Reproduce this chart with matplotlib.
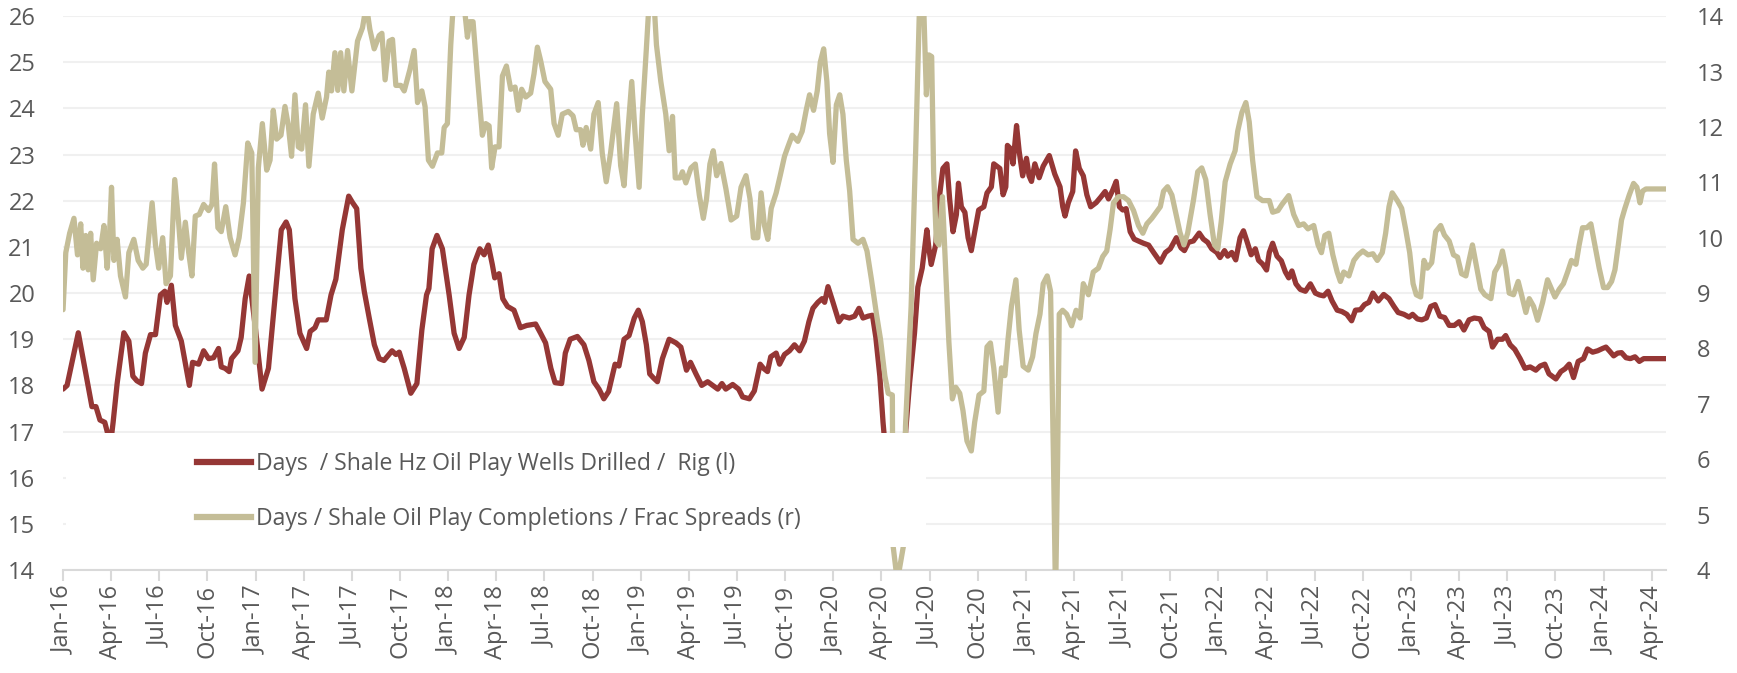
import matplotlib.pyplot as plt
from matplotlib.patches import Rectangle

plt.rcParams['font.family'] = ['Open Sans', 'DejaVu Sans']

# x = months after Jan 2016
red_m = [0.0, 0.25, 0.95, 1.5, 1.8, 2.05, 2.3, 2.6, 2.75, 2.95, 3.12, 3.37, 3.79, 4.1, 4.35, 4.6, 4.89,
         5.13, 5.45, 5.76, 6.07, 6.34, 6.48, 6.75, 7.0, 7.37, 7.66, 7.87, 8.07, 8.45, 8.76, 9.07, 9.38,
         9.69, 9.86, 10.1, 10.35, 10.5, 10.9, 11.1, 11.35, 11.6, 12.0, 12.4, 12.8, 13.2, 13.6, 13.9, 14.1,
         14.45, 14.76, 15.18, 15.4, 15.7, 15.9, 16.4, 16.7, 17.0, 17.4, 17.8, 18.04, 18.3, 18.56, 18.77,
         19.08, 19.4, 19.7, 20.0, 20.5, 20.74, 20.95, 21.26, 21.67, 22.05, 22.36, 22.65, 22.8, 23.0, 23.3,
         23.64, 24.06, 24.37, 24.68, 25.0, 25.3, 25.6, 25.97, 26.24, 26.5, 26.75, 26.9, 27.17, 27.4, 27.7,
         28.1, 28.5, 28.9, 29.45, 29.76, 30.07, 30.4, 30.66, 31.07, 31.3, 31.6, 32.05, 32.46, 32.77, 33.08,
         33.4, 33.7, 34.0, 34.4, 34.64, 34.96, 35.27, 35.6, 35.85, 36.1, 36.35, 36.56, 36.77, 37.04, 37.35,
         37.77, 38.2, 38.5, 38.85, 39.1, 39.44, 39.8, 40.17, 40.48, 40.8, 41.06, 41.3, 41.73, 42.1, 42.35,
         42.77, 43.08, 43.44, 43.65, 43.9, 44.1, 44.44, 44.65, 44.96, 45.27, 45.58, 45.9, 46.2, 46.48,
         46.73, 47.04, 47.3, 47.46, 47.67, 47.98, 48.35, 48.6, 49.0, 49.33, 49.6, 49.85, 50.17, 50.44,
         50.65, 50.9, 51.1, 51.4, 51.8, 52.2, 52.5, 52.75, 53.06, 53.27, 53.54, 53.83, 53.96, 54.1, 54.38,
         54.63, 54.83, 55.08, 55.25, 55.46, 55.67, 55.8, 55.98, 56.2, 56.4, 56.6, 56.92, 57.06, 57.38,
         57.58, 57.85, 58.0, 58.38, 58.58, 58.75, 58.85, 59.04, 59.2, 59.42, 59.58, 59.8, 60.04, 60.2,
         60.35, 60.56, 60.83, 61.08, 61.46, 61.8, 62.13, 62.3, 62.44, 62.65, 62.92, 63.1, 63.33, 63.58,
         63.8, 64.04, 64.38, 64.67, 64.94, 65.15, 65.4, 65.63, 65.83, 66.04, 66.25, 66.5, 66.75, 67.0,
         67.33, 67.65, 67.96, 68.38, 68.7, 69.0, 69.38, 69.67, 69.88, 70.13, 70.44, 70.8, 71.06, 71.33,
         71.58, 71.9, 72.1, 72.38, 72.58, 72.83, 73.08, 73.35, 73.56, 73.77, 74.04, 74.3, 74.5, 74.75,
         75.0, 75.17, 75.38, 75.65, 75.92, 76.17, 76.38, 76.58, 76.83, 77.1, 77.42, 77.73, 78.04, 78.3,
         78.56, 78.83, 79.08, 79.4, 79.7, 80.0, 80.3, 80.54, 80.85, 81.1, 81.38, 81.63, 81.96, 82.3,
         82.63, 82.94, 83.2, 83.56, 83.88, 84.1, 84.4, 84.67, 84.96, 85.23, 85.5, 85.8, 86.1, 86.38, 86.7,
         87.0, 87.3, 87.62, 87.94, 88.3, 88.56, 88.87, 89.08, 89.4, 89.7, 89.9, 90.18, 90.47, 90.8, 91.1,
         91.43, 91.78, 92.05, 92.34, 92.6, 93.03, 93.34, 93.6, 93.86, 94.13, 94.42, 94.75, 95.0, 95.32,
         95.63, 95.94, 96.15, 96.36, 96.63, 96.88, 97.12, 97.4, 97.67, 97.96, 98.23, 98.5, 99.95]
red_v = [17.92, 18.0, 19.14, 18.1, 17.54, 17.54, 17.25, 17.2, 17.0, 16.7, 17.2, 18.04, 19.14, 18.96, 18.2,
         18.1, 18.04, 18.7, 19.1, 19.1, 19.96, 20.04, 19.8, 20.17, 19.3, 18.96, 18.4, 18.0, 18.5, 18.46,
         18.75, 18.58, 18.6, 18.8, 18.4, 18.37, 18.3, 18.58, 18.75, 19.04, 19.88, 20.37, 19.2, 17.92, 18.37,
         19.88, 21.37, 21.54, 21.37, 19.88, 19.13, 18.8, 19.17, 19.25, 19.42, 19.42, 19.96, 20.3, 21.37,
         22.1, 21.96, 21.83, 20.54, 20.04, 19.46, 18.88, 18.58, 18.54, 18.75, 18.67, 18.72, 18.37, 17.83,
         18.04, 19.2, 19.96, 20.1, 20.96, 21.25, 20.96, 19.96, 19.13, 18.8, 19.04, 19.96, 20.62, 20.96,
         20.83, 21.04, 20.62, 20.33, 20.42, 19.88, 19.71, 19.63, 19.25, 19.3, 19.33, 19.13, 18.92, 18.37,
         18.06, 18.04, 18.7, 19.0, 19.06, 18.88, 18.54, 18.08, 17.92, 17.71, 17.87, 18.46, 18.42, 19.0,
         19.08, 19.46, 19.63, 19.38, 18.88, 18.25, 18.17, 18.08, 18.58, 19.0, 18.92, 18.83, 18.33, 18.5,
         18.25, 18.0, 18.08, 18.0, 17.92, 18.04, 17.92, 18.02, 17.92, 17.75, 17.71, 17.88, 18.46, 18.37,
         18.3, 18.62, 18.7, 18.46, 18.67, 18.75, 18.88, 18.75, 18.96, 19.38, 19.67, 19.8, 19.88, 19.8,
         20.14, 19.8, 19.38, 19.5, 19.46, 19.5, 19.67, 19.46, 19.5, 19.52, 19.04, 18.2, 17.2, 16.0, 15.3,
         16.0, 16.96, 18.04, 19.13, 20.13, 20.54, 21.37, 20.96, 20.62, 21.04, 22.13, 22.7, 22.8, 22.04,
         21.33, 21.7, 22.38, 21.87, 21.75, 21.2, 20.92, 21.54, 21.8, 21.87, 22.17, 22.3, 22.8, 22.7, 22.13,
         22.3, 23.2, 23.13, 22.8, 23.63, 23.08, 22.54, 22.92, 22.54, 22.42, 22.8, 22.5, 22.75, 22.98,
         22.58, 22.3, 21.87, 21.67, 21.96, 22.2, 23.08, 22.7, 22.54, 22.13, 21.87, 21.96, 22.08, 22.2,
         22.04, 22.22, 22.42, 21.87, 21.8, 21.83, 21.33, 21.17, 21.13, 21.08, 21.04, 20.88, 20.67, 20.88,
         20.96, 21.2, 20.98, 20.92, 21.1, 21.13, 21.3, 21.17, 21.1, 20.96, 20.88, 20.77, 20.92, 20.8, 20.88,
         20.72, 21.2, 21.35, 21.13, 20.83, 20.96, 20.71, 20.63, 20.5, 20.88, 21.08, 20.8, 20.7, 20.46,
         20.33, 20.48, 20.2, 20.08, 20.04, 20.2, 20.0, 19.96, 19.94, 20.04, 19.83, 19.63, 19.6, 19.54,
         19.4, 19.63, 19.64, 19.75, 19.8, 20.0, 19.83, 19.97, 19.88, 19.71, 19.58, 19.54, 19.48, 19.54,
         19.44, 19.42, 19.46, 19.71, 19.75, 19.5, 19.47, 19.3, 19.3, 19.38, 19.2, 19.42, 19.46, 19.44,
         19.25, 19.17, 18.83, 19.0, 19.0, 19.08, 18.88, 18.78, 18.58, 18.37, 18.4, 18.33, 18.42, 18.46,
         18.25, 18.14, 18.3, 18.36, 18.46, 18.17, 18.52, 18.58, 18.79, 18.72, 18.75, 18.8, 18.83, 18.75,
         18.64, 18.7, 18.71, 18.6, 18.58, 18.62, 18.52, 18.58, 18.58]

tan_m = [0.0, 0.17, 0.41, 0.68, 0.9, 1.1, 1.24, 1.41, 1.57, 1.72, 1.88, 2.09, 2.34, 2.55, 2.75, 2.9, 3.02,
         3.17, 3.37, 3.58, 3.89, 4.1, 4.41, 4.68, 4.97, 5.18, 5.55, 5.76, 5.96, 6.21, 6.42, 6.69, 6.96,
         7.2, 7.37, 7.62, 7.83, 8.03, 8.24, 8.49, 8.76, 9.07, 9.28, 9.44, 9.65, 9.86, 10.14, 10.41, 10.72,
         10.97, 11.24, 11.51, 11.76, 11.97, 12.17, 12.42, 12.69, 12.9, 13.1, 13.31, 13.58, 13.83, 14.04,
         14.24, 14.45, 14.66, 14.87, 15.11, 15.32, 15.59, 15.9, 16.15, 16.42, 16.56, 16.73, 16.94, 17.12,
         17.3, 17.5, 17.73, 18.0, 18.35, 18.66, 18.9, 19.12, 19.39, 19.7, 19.87, 20.07, 20.32, 20.53,
         20.74, 21.05, 21.26, 21.61, 21.88, 22.09, 22.36, 22.56, 22.77, 23.02, 23.33, 23.6, 23.75, 23.95,
         24.16, 24.4, 24.85, 25.2, 25.34, 25.55, 25.82, 26.13, 26.34, 26.55, 26.71, 26.92, 27.17, 27.38,
         27.63, 27.9, 28.17, 28.37, 28.58, 28.83, 29.14, 29.35, 29.56, 29.76, 30.03, 30.39, 30.6, 30.86,
         31.11, 31.49, 31.78, 31.98, 32.25, 32.4, 32.6, 32.88, 33.08, 33.35, 33.6, 33.85, 34.12, 34.5,
         34.75, 34.96, 35.17, 35.44, 35.65, 35.9, 36.1, 36.35, 36.55, 36.8, 36.98, 37.25, 37.56, 37.77,
         37.98, 38.15, 38.44, 38.6, 38.81, 39.13, 39.4, 39.65, 39.9, 40.1, 40.31, 40.52, 40.73, 41.0,
         41.31, 41.63, 41.98, 42.25, 42.56, 42.81, 43.02, 43.29, 43.5, 43.71, 43.92, 44.13, 44.44, 44.69,
         44.96, 45.17, 45.44, 45.79, 46.06, 46.31, 46.52, 46.77, 47.0, 47.19, 47.4, 47.6, 47.77, 47.98,
         48.19, 48.4, 48.6, 48.81, 49.02, 49.23, 49.54, 49.85, 50.1, 50.38, 50.69, 50.94, 51.21, 51.42,
         51.68, 51.72, 51.99, 52.38, 52.5, 52.85, 53.13, 53.4, 53.6, 53.8, 53.96, 54.13, 54.25, 54.42,
         54.58, 54.8, 55.0, 55.2, 55.42, 55.63, 55.88, 56.08, 56.33, 56.6, 56.81, 57.08, 57.38, 57.58,
         57.79, 58.0, 58.27, 58.48, 58.69, 58.9, 59.1, 59.38, 59.58, 59.83, 60.15, 60.42, 60.63, 60.88,
         61.08, 61.33, 61.54, 61.72, 61.85, 61.98, 62.08, 62.29, 62.54, 62.85, 63.13, 63.38, 63.58, 63.9,
         64.2, 64.52, 64.79, 65.04, 65.25, 65.46, 65.77, 66.08, 66.4, 66.71, 67.02, 67.29, 67.54, 67.85,
         68.13, 68.38, 68.58, 68.83, 69.1, 69.38, 69.6, 69.85, 70.08, 70.44, 70.71, 70.96, 71.21, 71.48,
         71.75, 71.96, 72.17, 72.42, 72.73, 73.04, 73.2, 73.46, 73.71, 73.92, 74.13, 74.4, 74.75, 75.17,
         75.38, 75.71, 75.96, 76.38, 76.69, 77.0, 77.31, 77.58, 77.94, 78.21, 78.42, 78.63, 78.88, 79.13,
         79.4, 79.6, 79.81, 80.13, 80.44, 80.71, 81.0, 81.33, 81.63, 81.9, 82.21, 82.42, 82.63, 82.83,
         83.15, 83.42, 83.67, 83.92, 84.13, 84.33, 84.6, 84.81, 85.02, 85.29, 85.54, 85.85, 86.08, 86.38,
         86.65, 86.9, 87.15, 87.42, 87.62, 87.83, 88.1, 88.35, 88.6, 88.98, 89.22, 89.5, 89.7, 89.91,
         90.12, 90.39, 90.68, 90.95, 91.16, 91.37, 91.64, 91.89, 92.2, 92.51, 92.72, 92.97, 93.24, 93.5,
         93.76, 94.0, 94.28, 94.48, 94.69, 94.96, 95.21, 95.46, 95.73, 96.0, 96.25, 96.5, 96.71, 96.92,
         97.12, 97.33, 97.6, 97.87, 98.08, 98.27, 98.43, 98.64, 99.95]
tan_v = [8.7, 9.73, 10.08, 10.35, 9.69, 10.25, 9.45, 10.04, 9.42, 10.08, 9.24, 9.9, 9.8, 10.22, 9.45, 10.08,
         10.91, 9.59, 9.97, 9.31, 8.93, 9.73, 9.97, 9.59, 9.45, 9.52, 10.63, 9.87, 9.45, 10.0, 9.17, 9.31,
         11.05, 10.28, 9.63, 10.28, 9.73, 9.31, 10.39, 10.42, 10.6, 10.49, 10.6, 11.33, 10.18, 10.11, 10.56,
         10.0, 9.69, 10.0, 10.63, 11.71, 11.53, 7.75, 11.26, 12.06, 11.22, 11.4, 12.3, 11.78, 11.85, 12.37,
         12.02, 11.47, 12.58, 11.64, 11.6, 12.4, 11.29, 12.23, 12.61, 12.16, 12.54, 12.99, 12.65, 13.34,
         12.66, 13.34, 12.65, 13.38, 12.65, 13.55, 13.79, 14.2, 13.76, 13.41, 13.65, 13.69, 12.85, 13.55,
         13.58, 12.75, 12.75, 12.65, 13.03, 13.38, 12.44, 12.65, 12.37, 11.4, 11.29, 11.53, 11.53, 11.99,
         12.06, 13.48, 14.6, 14.6, 13.62, 13.9, 13.9, 12.92, 11.85, 12.06, 12.02, 11.26, 11.64, 11.64,
         12.92, 13.1, 12.68, 12.72, 12.3, 12.68, 12.54, 12.61, 12.96, 13.44, 13.2, 12.82, 12.68, 12.06,
         11.85, 12.23, 12.28, 12.2, 11.95, 11.95, 11.67, 11.99, 11.6, 12.23, 12.44, 11.53, 11.01, 11.53,
         12.42, 11.3, 10.94, 11.81, 12.82, 11.88, 10.91, 12.23, 13.41, 14.4, 14.4, 13.48, 12.82, 12.23,
         11.57, 12.19, 11.08, 11.08, 11.19, 10.99, 11.26, 11.33, 10.77, 10.35, 10.7, 11.33, 11.57, 11.12,
         11.34, 10.88, 10.32, 10.39, 10.91, 11.12, 10.7, 10.0, 10.0, 10.81, 10.22, 9.97, 10.53, 10.81,
         11.12, 11.47, 11.64, 11.85, 11.74, 11.92, 12.3, 12.58, 12.3, 12.65, 13.17, 13.41, 12.82, 11.88,
         11.36, 12.4, 12.58, 12.23, 11.4, 10.84, 9.97, 9.9, 9.97, 9.76, 9.24, 8.62, 8.17, 7.51, 7.19, 7.16,
         4.45, 3.8, 4.45, 6.6, 8.76, 11.53, 14.5, 14.5, 12.58, 13.3, 13.27, 11.19, 9.94, 9.87, 10.74, 9.45,
         8.13, 7.09, 7.3, 7.19, 6.88, 6.33, 6.15, 6.67, 7.16, 7.23, 8.03, 8.1, 7.65, 6.85, 7.65, 7.51, 8.2,
         8.76, 9.24, 8.34, 7.68, 7.61, 7.85, 8.27, 8.62, 9.17, 9.31, 9.03, 6.0, 3.5, 6.0, 8.62, 8.69, 8.62,
         8.41, 8.69, 8.55, 9.17, 8.97, 9.38, 9.45, 9.66, 9.76, 10.15, 10.63, 10.74, 10.74, 10.67, 10.49,
         10.22, 10.08, 10.25, 10.35, 10.46, 10.56, 10.84, 10.92, 10.77, 10.4, 10.1, 9.87, 10.08, 10.67,
         11.19, 11.26, 11.05, 10.42, 9.87, 9.8, 10.28, 11.01, 11.33, 11.57, 11.92, 12.26, 12.44, 12.09,
         11.4, 10.74, 10.67, 10.67, 10.46, 10.49, 10.6, 10.76, 10.42, 10.22, 10.25, 10.16, 10.22, 9.87,
         9.73, 10.04, 10.08, 9.69, 9.38, 9.21, 9.38, 9.31, 9.59, 9.69, 9.76, 9.69, 9.71, 9.59, 9.73, 10.08,
         10.56, 10.81, 10.67, 10.53, 10.15, 9.73, 9.17, 8.97, 8.93, 9.59, 9.45, 9.55, 10.11, 10.22, 10.05,
         9.94, 9.69, 9.65, 9.35, 9.31, 9.59, 9.87, 9.45, 9.07, 8.97, 8.9, 9.38, 9.52, 9.76, 9.45, 9.0,
         8.97, 9.21, 8.9, 8.65, 8.9, 8.76, 8.51, 8.83, 9.24, 9.1, 8.93, 9.07, 9.17, 9.38, 9.59, 9.52, 9.87,
         10.18, 10.18, 10.25, 9.87, 9.45, 9.1, 9.1, 9.21, 9.42, 9.87, 10.32, 10.53, 10.77, 10.98, 10.91,
         10.63, 10.84, 10.88, 10.88]

months = ['Jan', 'Apr', 'Jul', 'Oct']
tick_labels = [f'{mon}-{yr}' for yr in range(16, 25) for mon in months][:34]

red_label = 'Days  / Shale Hz Oil Play Wells Drilled /  Rig (l)'
tan_label = 'Days / Shale Oil Play Completions / Frac Spreads (r)'

red = '#953735'
tan = '#c4bd97'
grey = '#595959'

fig = plt.figure(figsize=(17.37, 6.73), dpi=100)
ax = fig.add_axes([0.0363, 0.153, 0.9229, 0.823])
ax2 = ax.twinx()

ax.plot(red_m, red_v, color=red, lw=3.8, solid_joinstyle='round', solid_capstyle='round')
ax2.plot(tan_m, tan_v, color=tan, lw=3.8, solid_joinstyle='round', solid_capstyle='round')

ax.set_xlim(0, 99.9)
ax.set_ylim(14, 26)
ax2.set_ylim(4, 14)
ax.set_yticks(range(14, 27))
ax2.set_yticks(range(4, 15))
ax.set_xticks(range(0, 100, 3))
ax.set_xticklabels(tick_labels, rotation=90)

ax.grid(axis='y', color='#f0f0f0', lw=1.5)
ax.set_axisbelow(True)
for s in ['top', 'left', 'right']:
    ax.spines[s].set_visible(False)
for s in ax2.spines.values():
    s.set_visible(False)
ax.spines['bottom'].set_color('#d9d9d9')
ax.spines['bottom'].set_linewidth(1.5)

ax.tick_params(axis='x', length=8, width=1.5, color='#d9d9d9', labelsize=17, labelcolor=grey, pad=3)
ax.tick_params(axis='y', length=0, pad=20, labelsize=17, labelcolor=grey)
ax2.tick_params(axis='y', length=0, pad=22, labelsize=17, labelcolor=grey)

# white box behind the legend that covers the lines
ax2.add_patch(Rectangle((0.002, 0.0415), 0.536, 0.2055, transform=ax2.transAxes,
                        facecolor='white', edgecolor='none', zorder=5))

h1 = plt.Line2D([], [], color=red, lw=4.5)
h2 = plt.Line2D([], [], color=tan, lw=4.5)
leg = ax2.legend([h1, h2], [red_label, tan_label], loc='upper left', bbox_to_anchor=(0.0836, 0.2135),
                 frameon=False, fontsize=16.6, labelcolor=grey, handlelength=2.35, handletextpad=0.22,
                 labelspacing=1.37, borderpad=0, borderaxespad=0)
leg.set_zorder(6)

fig.savefig('out.png', dpi=100)
